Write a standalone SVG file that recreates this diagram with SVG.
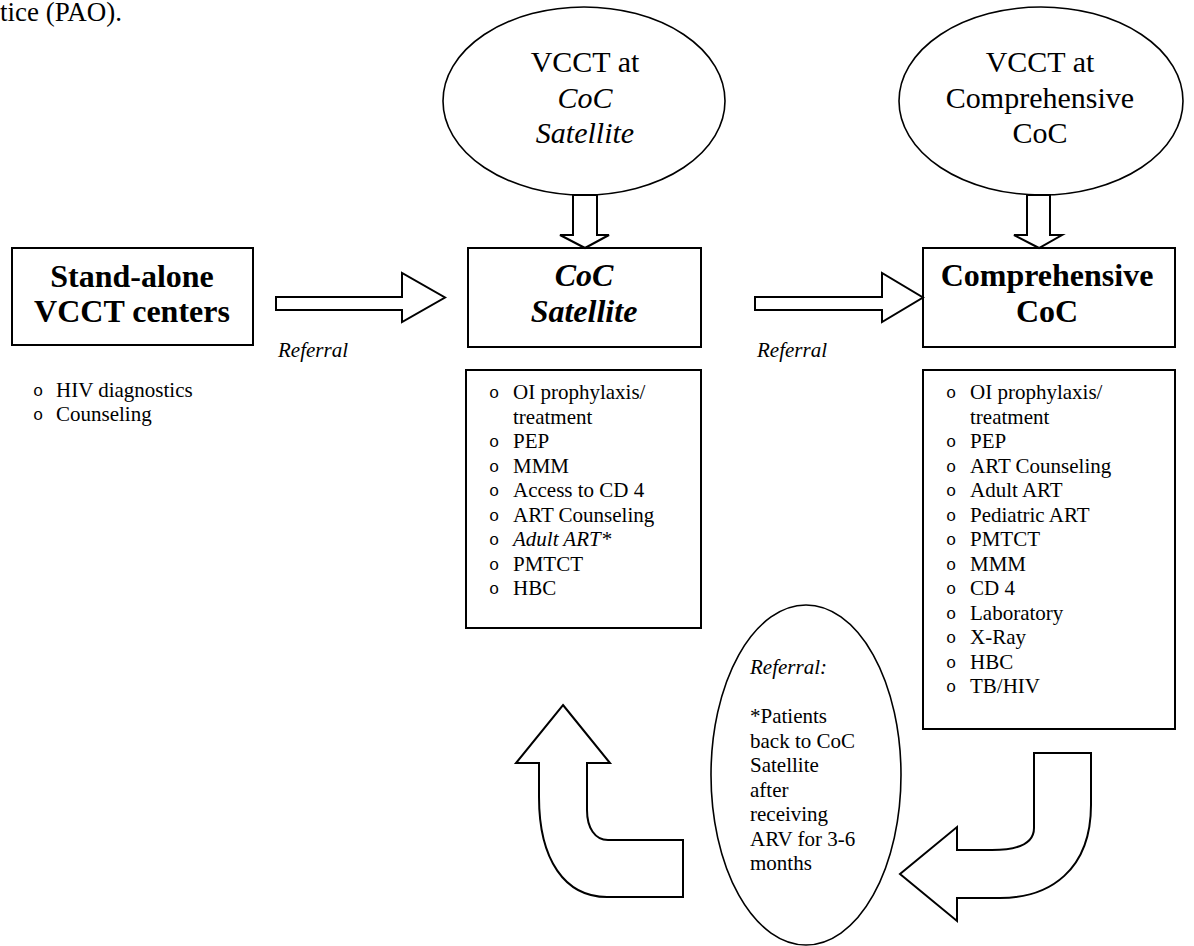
<svg xmlns="http://www.w3.org/2000/svg" width="1194" height="946" viewBox="0 0 1194 946">
<style>
.b{fill:#fff;stroke:#000;stroke-width:2}
.e{fill:#fff;stroke:#000;stroke-width:1.6}
.t{font-family:"Liberation Serif","Times New Roman",serif;fill:#000}
.hd{font-family:"Liberation Serif","Times New Roman",serif;font-size:32px;font-weight:bold;text-anchor:middle}
.el{font-family:"Liberation Serif","Times New Roman",serif;font-size:30px;text-anchor:middle}
.li{font-family:"Liberation Serif","Times New Roman",serif;font-size:21px}
.it{font-style:italic}
.bu{font-family:"Liberation Mono","Courier New",monospace;font-size:17px;fill:#000}
</style>
<rect width="1194" height="946" fill="#fff"/>
<text class="t" x="0" y="21" font-size="27">tice (PAO).</text>

<g id="vcct-sat">
<ellipse class="e" cx="584" cy="101" rx="141" ry="94"/>
<text class="el" x="585" y="72">VCCT at</text>
<text class="el it" x="585" y="108">CoC</text>
<text class="el it" x="585" y="143">Satellite</text>
</g>
<g id="vcct-comp">
<ellipse class="e" cx="1041" cy="101" rx="142" ry="94"/>
<text class="el" x="1040" y="72">VCCT at</text>
<text class="el" x="1040" y="108">Comprehensive</text>
<text class="el" x="1040" y="143">CoC</text>
</g>

<g id="standalone">
<rect class="b" x="12" y="248" width="241" height="97"/>
<text class="hd" x="132" y="287">Stand-alone</text>
<text class="hd" x="132" y="322">VCCT centers</text>
</g>
<g id="standalone-list">
<text class="bu" x="33" y="396">o</text><text class="li" x="56" y="397">HIV diagnostics</text>
<text class="bu" x="33" y="420">o</text><text class="li" x="56" y="421">Counseling</text>
</g>

<g id="coc-sat">
<rect class="b" x="468" y="248" width="233" height="99"/>
<text class="hd it" x="584" y="286">CoC</text>
<text class="hd it" x="584" y="322">Satellite</text>
</g>
<g id="coc-sat-list">
<rect class="b" x="466" y="370" width="235" height="258"/>
<g class="li">
<text x="513" y="399">OI prophylaxis/</text>
<text x="513" y="423.5">treatment</text>
<text x="513" y="448">PEP</text>
<text x="513" y="472.5">MMM</text>
<text x="513" y="497">Access to CD 4</text>
<text x="513" y="521.5">ART Counseling</text>
<text x="513" y="546" font-style="italic">Adult ART*</text>
<text x="513" y="570.5">PMTCT</text>
<text x="513" y="595">HBC</text>
</g>
<g class="bu">
<text x="489" y="398">o</text>
<text x="489" y="447">o</text>
<text x="489" y="471.5">o</text>
<text x="489" y="496">o</text>
<text x="489" y="520.5">o</text>
<text x="489" y="545">o</text>
<text x="489" y="569.5">o</text>
<text x="489" y="594">o</text>
</g>
</g>

<g id="comp-coc">
<rect class="b" x="923" y="248" width="252" height="99"/>
<text class="hd" x="1047" y="286">Comprehensive</text>
<text class="hd" x="1047" y="322">CoC</text>
</g>
<g id="comp-list">
<rect class="b" x="923" y="370" width="252" height="359"/>
<g class="li">
<text x="970" y="399">OI prophylaxis/</text>
<text x="970" y="423.5">treatment</text>
<text x="970" y="448">PEP</text>
<text x="970" y="472.5">ART Counseling</text>
<text x="970" y="497">Adult ART</text>
<text x="970" y="521.5">Pediatric ART</text>
<text x="970" y="546">PMTCT</text>
<text x="970" y="570.5">MMM</text>
<text x="970" y="595">CD 4</text>
<text x="970" y="619.5">Laboratory</text>
<text x="970" y="644">X-Ray</text>
<text x="970" y="668.5">HBC</text>
<text x="970" y="693">TB/HIV</text>
</g>
<g class="bu">
<text x="946" y="398">o</text>
<text x="946" y="447">o</text>
<text x="946" y="471.5">o</text>
<text x="946" y="496">o</text>
<text x="946" y="520.5">o</text>
<text x="946" y="545">o</text>
<text x="946" y="569.5">o</text>
<text x="946" y="594">o</text>
<text x="946" y="618.5">o</text>
<text x="946" y="643">o</text>
<text x="946" y="667.5">o</text>
<text x="946" y="692">o</text>
</g>
</g>

<g id="referral-note">
<ellipse class="e" cx="806" cy="775" rx="95" ry="170"/>
<g class="li">
<text x="750" y="674" font-style="italic">Referral:</text>
<text x="750" y="723">*Patients</text>
<text x="750" y="747.5">back to CoC</text>
<text x="750" y="772">Satellite</text>
<text x="750" y="796.5">after</text>
<text x="750" y="821">receiving</text>
<text x="750" y="845.5">ARV for 3-6</text>
<text x="750" y="870">months</text>
</g>
</g>

<g id="connectors">
<path class="b" d="M276,297 L402,297 L402,273 L445,297.5 L402,322 L402,310 L276,310 Z"/>
<path class="b" d="M755,297 L882,297 L882,273 L923,297.5 L882,322 L882,310 L755,310 Z"/>
<path class="b" d="M573,195 L597,195 L597,235 L609,235 L585,248 L560,235 L573,235 Z"/>
<path class="b" d="M1027,195 L1050,195 L1050,235 L1062,235 L1039,248 L1014,235 L1027,235 Z"/>
<path class="b" d="M563,705 L610,763 L587,763 L587,810 C587,828 595,840 608,840 L683,840 L683,897 L607,897 C565,897 539,860 539,797 L539,763 L516,763 Z"/>
<path class="b" d="M1034,753 L1091,753 L1091,805 C1091,870 1050,898 1000,898 L957,898 L957,921 L900,874 L957,827 L957,850 L992,850 C1020,850 1034,842 1034,828 Z"/>
<text class="li it" x="278" y="357">Referral</text>
<text class="li it" x="757" y="357">Referral</text>
</g>
</svg>
